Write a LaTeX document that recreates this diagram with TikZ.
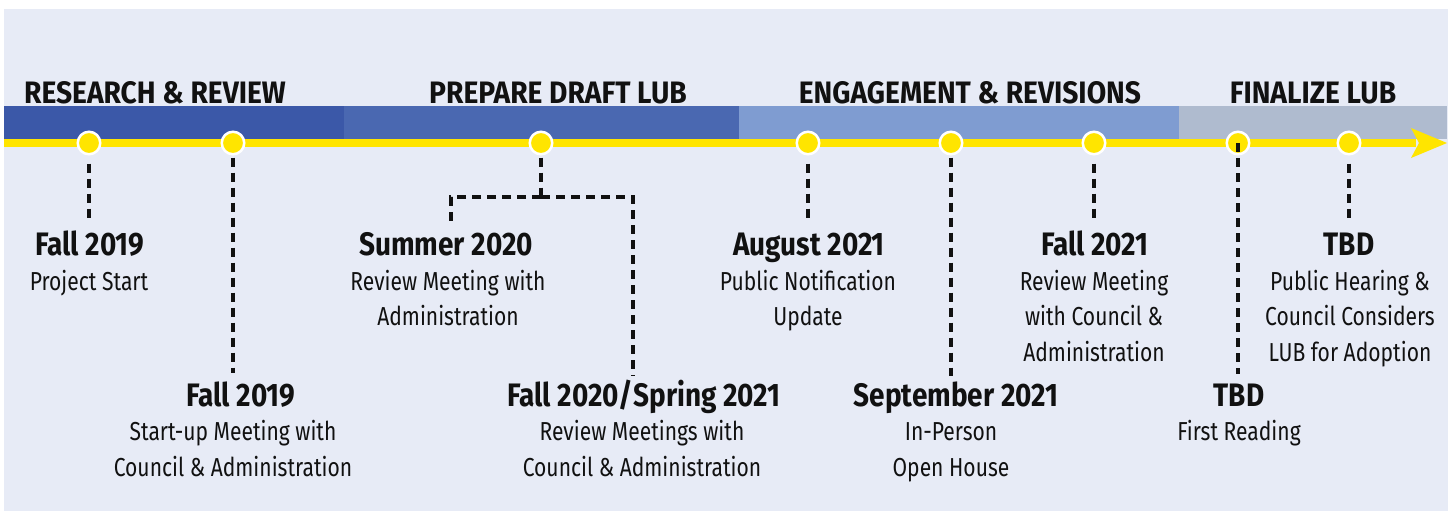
\documentclass[tikz,border=0pt]{standalone}
\usepackage{fontspec}
\setmainfont{Fira Sans}[FakeStretch=0.81]
\newfontfamily\ttlfont{Fira Sans}[FakeStretch=0.86]
\newfontfamily\hdrfont{Fira Sans}[FakeStretch=0.91]
\definecolor{bgc}{HTML}{E7EBF6}
\definecolor{segA}{HTML}{3B58A8}
\definecolor{segB}{HTML}{4A68B1}
\definecolor{segC}{HTML}{7F9CD1}
\definecolor{segD}{HTML}{AFBBCF}
\definecolor{ylw}{HTML}{FFE500}
\definecolor{ink}{HTML}{111111}
\newcommand\tlines[1]{\begin{tabular}[t]{@{}c@{}}#1\end{tabular}}
\tikzset{
  hdr/.style={anchor=base, inner sep=0pt, text=ink, font=\hdrfont\fontsize{31}{36}\selectfont\bfseries},
  ttl/.style={anchor=base, inner sep=0pt, text=ink, font=\ttlfont\fontsize{32.5}{36}\selectfont\bfseries},
  bdy/.style={anchor=base, inner sep=0pt, text=ink, font=\fontsize{26}{35.5}\selectfont},
  dot/.style={circle, fill=ylw, draw=white, line width=2.5pt, minimum size=22.5pt, inner sep=0pt},
  dline/.style={draw=ink, line width=3.4pt, dash pattern=on 9pt off 6pt},
}
\begin{document}
\begin{tikzpicture}[x=1pt,y=-1pt]
\useasboundingbox (0,0) rectangle (1452,511);
\fill[bgc] (4,9) rectangle (1448,511);
% band
\fill[segA] (4,106) rectangle (344,139);
\fill[segB] (344,106) rectangle (739,139);
\fill[segC] (739,106) rectangle (1179,139);
\fill[segD] (1179,106) rectangle (1447,139);
% yellow line & arrow
\fill[ylw] (4,139) rectangle (1416,147);
\fill[ylw] (1447,143) -- (1411,128) -- (1419,143) -- (1411,158) -- cycle;
% headers
\node[hdr] (h1) at (155,103.5) {RESEARCH \& REVIEW};
\node[hdr] (h2) at (558,103.5) {PREPARE DRAFT LUB};
\node[hdr] (h3) at (970,103.5) {ENGAGEMENT \& REVISIONS};
\node[hdr] (h4) at (1313,103.5) {FINALIZE LUB};
% dots
\node[dot] (d1) at (89,143) {};
\node[dot] (d2) at (233,143) {};
\node[dot] (d3) at (541,143) {};
\node[dot] (d4) at (808,143) {};
\node[dot] (d5) at (951,143) {};
\node[dot] (d6) at (1094,143) {};
\node[dot] (d7) at (1238,143) {};
\node[dot] (d8) at (1349,143) {};
% connector ends
\coordinate (e1) at (89,221);
\coordinate (e2) at (233,373);
\coordinate (j3) at (541,197);
\coordinate (e3a) at (451,226);
\coordinate (e3b) at (633,376);
\coordinate (e4) at (808,221);
\coordinate (e5) at (951,376);
\coordinate (e6) at (1094,221);
\coordinate (e7) at (1238,374);
\coordinate (e8) at (1349,222);
% connectors
\draw[dline, shorten <=8pt] (d1.south) -- (e1);
\draw[dline, shorten <=2pt] (d2.south) -- (e2);
\draw[dline, shorten <=2pt] (d3.south) -- (j3);
\draw[dline] (j3) -| (e3a);
\draw[dline] (j3) -| (e3b);
\draw[dline, shorten <=8pt] (d4.south) -- (e4);
\draw[dline, shorten <=2pt] (d5.south) -- (e5);
\draw[dline, shorten <=8pt] (d6.south) -- (e6);
\draw[dline] (d7.center) -- (e7);
\draw[dline, shorten <=8pt] (d8.south) -- (e8);
% labels
\node[ttl] (t1) at (90,255) {Fall 2019};
\node[bdy] (b1) at (89,290) {\tlines{Project Start}};
\node[ttl] (t2) at (241,406) {Fall 2019};
\node[bdy] (b2) at (233,440.5) {\tlines{Start-up Meeting with\\Council \& Administration}};
\node[ttl] (t3) at (446,255) {Summer 2020};
\node[bdy] (b3) at (448,290) {\tlines{Review Meeting with\\Administration}};
\node[ttl] (t4) at (644,406) {Fall 2020/Spring 2021};
\node[bdy] (b4) at (642,440.5) {\tlines{Review Meetings with\\Council \& Administration}};
\node[ttl] (t5) at (809,255) {August 2021};
\node[bdy] (b5) at (808,290) {\tlines{Public Notification\\Update}};
\node[ttl] (t6) at (956,406) {September 2021};
\node[bdy] (b6) at (951,440.5) {\tlines{In-Person\\Open House}};
\node[ttl] (t7) at (1095,255) {Fall 2021};
\node[bdy] (b7) at (1094,290) {\tlines{Review Meeting\\with Council \&\\Administration}};
\node[ttl] (t8) at (1239,406) {TBD};
\node[bdy] (b8) at (1239,440.5) {\tlines{First Reading}};
\node[ttl] (t9) at (1349,255) {TBD};
\node[bdy] (b9) at (1350,290) {\tlines{Public Hearing \&\\Council Considers\\LUB for Adoption}};
\end{tikzpicture}
\end{document}
